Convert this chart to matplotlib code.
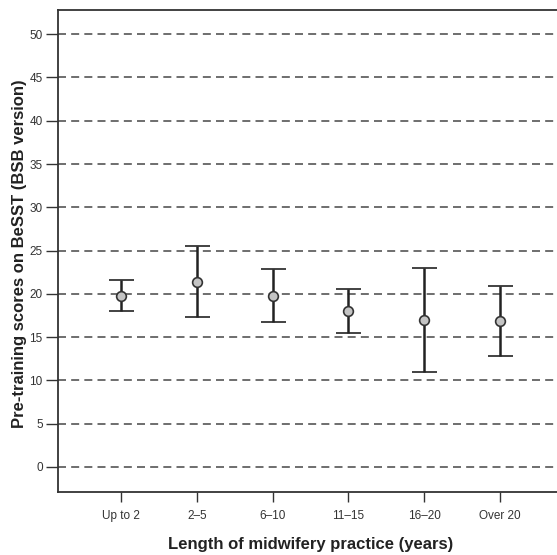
import matplotlib
matplotlib.use("Agg")
import matplotlib.pyplot as plt
import numpy as np

categories = ["Up to 2", "2\u20135", "6\u201310", "11\u201315", "16\u201320", "Over 20"]
means = [19.8, 21.4, 19.8, 18.0, 17.0, 16.9]
upper = [21.6, 25.5, 22.9, 20.55, 23.0, 20.9]
lower = [18.0, 17.3, 16.7, 15.5, 11.0, 12.8]
yticks = [0, 5, 10, 15, 20, 25, 30, 35, 40, 45, 50]

plt.rcParams['font.family'] = ['Liberation Sans', 'DejaVu Sans']

fig = plt.figure(figsize=(5.57, 5.55), dpi=100)
W, H = 557, 555
left_px, right_px, top_px, bot_px = 58, 563, 10, 492
ax = fig.add_axes([left_px / W, 1 - bot_px / H, (right_px - left_px) / W, (bot_px - top_px) / H])

x = np.arange(1, len(categories) + 1)
m = np.array(means)
err = np.vstack([m - np.array(lower), np.array(upper) - m])

for yv in yticks:
    ax.axhline(yv, color="#555555", lw=1.2, ls=(0, (4.8, 3.1)), zorder=1)

ax.errorbar(x, m, yerr=err, fmt="o", color="#222222", ecolor="#222222",
            elinewidth=1.8, capsize=9, capthick=1.8,
            markerfacecolor="#c4c4c4", markeredgecolor="#333333",
            markersize=7, markeredgewidth=1.2, zorder=3)

ax.set_xlim(0.17, 6.83)
ax.set_ylim(-2.9, 52.8)
ax.set_xticks(x)
ax.set_xticklabels(categories, fontsize=8.5, color="#333333")
ax.set_yticks(yticks)
ax.set_yticklabels([str(v) for v in yticks], fontsize=8.5, color="#333333")
ax.tick_params(axis="y", length=9, width=1.0, color="#333333", pad=2)
ax.tick_params(axis="x", length=7, width=1.0, color="#333333", pad=6)

for s in ["left", "bottom", "top"]:
    ax.spines[s].set_color("#333333")
    ax.spines[s].set_linewidth(1.3)
ax.spines["right"].set_visible(False)

ax.set_xlabel("Length of midwifery practice (years)", fontsize=12, fontweight="bold",
              color="#222222", labelpad=11)
ax.set_ylabel("Pre-training scores on BeSST (BSB version)", fontsize=12, fontweight="bold",
              color="#222222")
ax.yaxis.set_label_coords(-0.062, 0.495)

fig.savefig("out.png", dpi=100)
